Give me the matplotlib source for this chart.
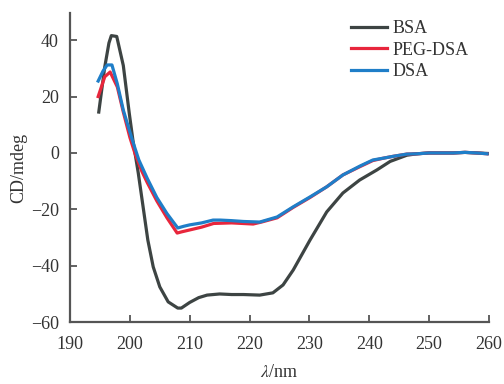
import matplotlib.pyplot as plt
import numpy as np

plt.rcParams['font.family'] = ['Liberation Serif', 'DejaVu Serif']
plt.rcParams['mathtext.fontset'] = 'stix'

# BSA
bsa_x = [194.8, 195.8, 196.5, 196.9, 197.8, 198.9, 199.9, 200.5, 201.4, 202.2,
         203.0, 203.9, 205.0, 206.4, 208.0, 208.6, 210.0, 211.5, 212.9, 215.0,
         217.0, 219.0, 221.7, 223.9, 225.6, 227.3, 230.1, 232.9, 235.6, 238.4,
         241.3, 243.5, 246.3, 248.0, 250.0, 252.0, 254.0, 256.0, 258.0, 260.0]
bsa_y = [14.5, 30.5, 39.0, 41.6, 41.3, 31.0, 14.0, 4.6, -7.1, -19.0,
         -30.9, -40.4, -47.5, -52.8, -55.0, -55.0, -53.0, -51.3, -50.4, -50.0,
         -50.2, -50.2, -50.4, -49.6, -46.8, -41.5, -30.9, -20.9, -14.2, -9.6,
         -6.0, -3.0, -0.8, -0.3, 0.0, 0.0, 0.0, 0.2, 0.0, -0.2]

# PEG-DSA
peg_x = [194.7, 195.8, 196.7, 197.9, 198.9, 200.0, 200.9, 202.0, 202.9, 204.5,
         206.2, 207.9, 208.6, 210.0, 212.0, 214.0, 217.0, 220.6, 222.0, 224.6,
         227.3, 230.1, 232.9, 235.6, 238.5, 240.6, 242.5, 244.0, 246.3, 248.0,
         250.0, 251.8, 254.0, 256.0, 258.0, 259.7]
peg_y = [20.0, 27.0, 28.7, 23.4, 14.5, 5.5, -0.5, -6.5, -10.5, -17.0,
         -23.0, -28.4, -28.0, -27.3, -26.3, -25.0, -24.8, -25.2, -24.5, -23.0,
         -19.3, -15.8, -12.0, -7.8, -4.8, -2.7, -1.8, -1.2, -0.4, -0.3,
         0.0, 0.0, 0.0, 0.2, 0.0, -0.3]

# DSA
dsa_x = [194.7, 195.5, 196.2, 197.0, 197.9, 198.9, 200.4, 201.5, 202.9,
         204.5, 206.2, 208.0, 209.0, 210.0, 212.0, 213.9, 215.1, 217.0, 219.0,
         221.7, 224.6, 227.3, 230.1, 232.9, 235.6, 238.5, 240.6, 242.5, 244.0,
         246.3, 248.0, 250.0, 251.8, 254.0, 256.0, 258.0, 259.7]
dsa_y = [25.5, 29.0, 31.2, 31.2, 24.5, 15.2, 4.6, -2.5, -9.0,
         -15.8, -21.5, -26.6, -26.0, -25.5, -24.8, -23.8, -23.8, -24.0, -24.3,
         -24.5, -22.7, -19.1, -15.6, -12.0, -7.8, -4.6, -2.5, -1.8, -1.2,
         -0.4, -0.3, 0.0, 0.0, 0.0, 0.2, 0.0, -0.3]

fig = plt.figure(figsize=(5.04, 3.84), dpi=100)
ax = fig.add_axes([0.139, 0.161, 0.831, 0.805])

ax.plot(bsa_x, bsa_y, color='#3d4443', lw=2.3, label='BSA')
ax.plot(peg_x, peg_y, color='#e8263c', lw=2.3, label='PEG-DSA')
ax.plot(dsa_x, dsa_y, color='#1f7ec8', lw=2.3, label='DSA')

ax.set_xlim(190, 260)
ax.set_ylim(-60, 49.6)
ax.set_xticks(np.arange(190, 261, 10))
ax.set_yticks(np.arange(-60, 41, 20))
ax.set_yticklabels(['\u221260', '\u221240', '\u221220', '0', '20', '40'])

for s in ['top', 'right']:
    ax.spines[s].set_visible(False)
for s in ['left', 'bottom']:
    ax.spines[s].set_color('#555555')
    ax.spines[s].set_linewidth(1.6)
ax.tick_params(direction='in', length=5, width=1.3, color='#555555',
               labelsize=13, labelcolor='#333333')
ax.tick_params(axis='x', pad=10)
ax.tick_params(axis='y', pad=8)

ax.set_xlabel(r'$\lambda$/nm', fontsize=13, color='#333333', labelpad=8)
ax.set_ylabel('CD/mdeg', fontsize=13, color='#333333', labelpad=3)

ax.legend(loc='upper right', bbox_to_anchor=(0.99, 1.03), frameon=False,
          fontsize=13, handlelength=2.0, handletextpad=0.3, labelspacing=0.25,
          labelcolor='#333333')

fig.savefig('out.png', dpi=100)
